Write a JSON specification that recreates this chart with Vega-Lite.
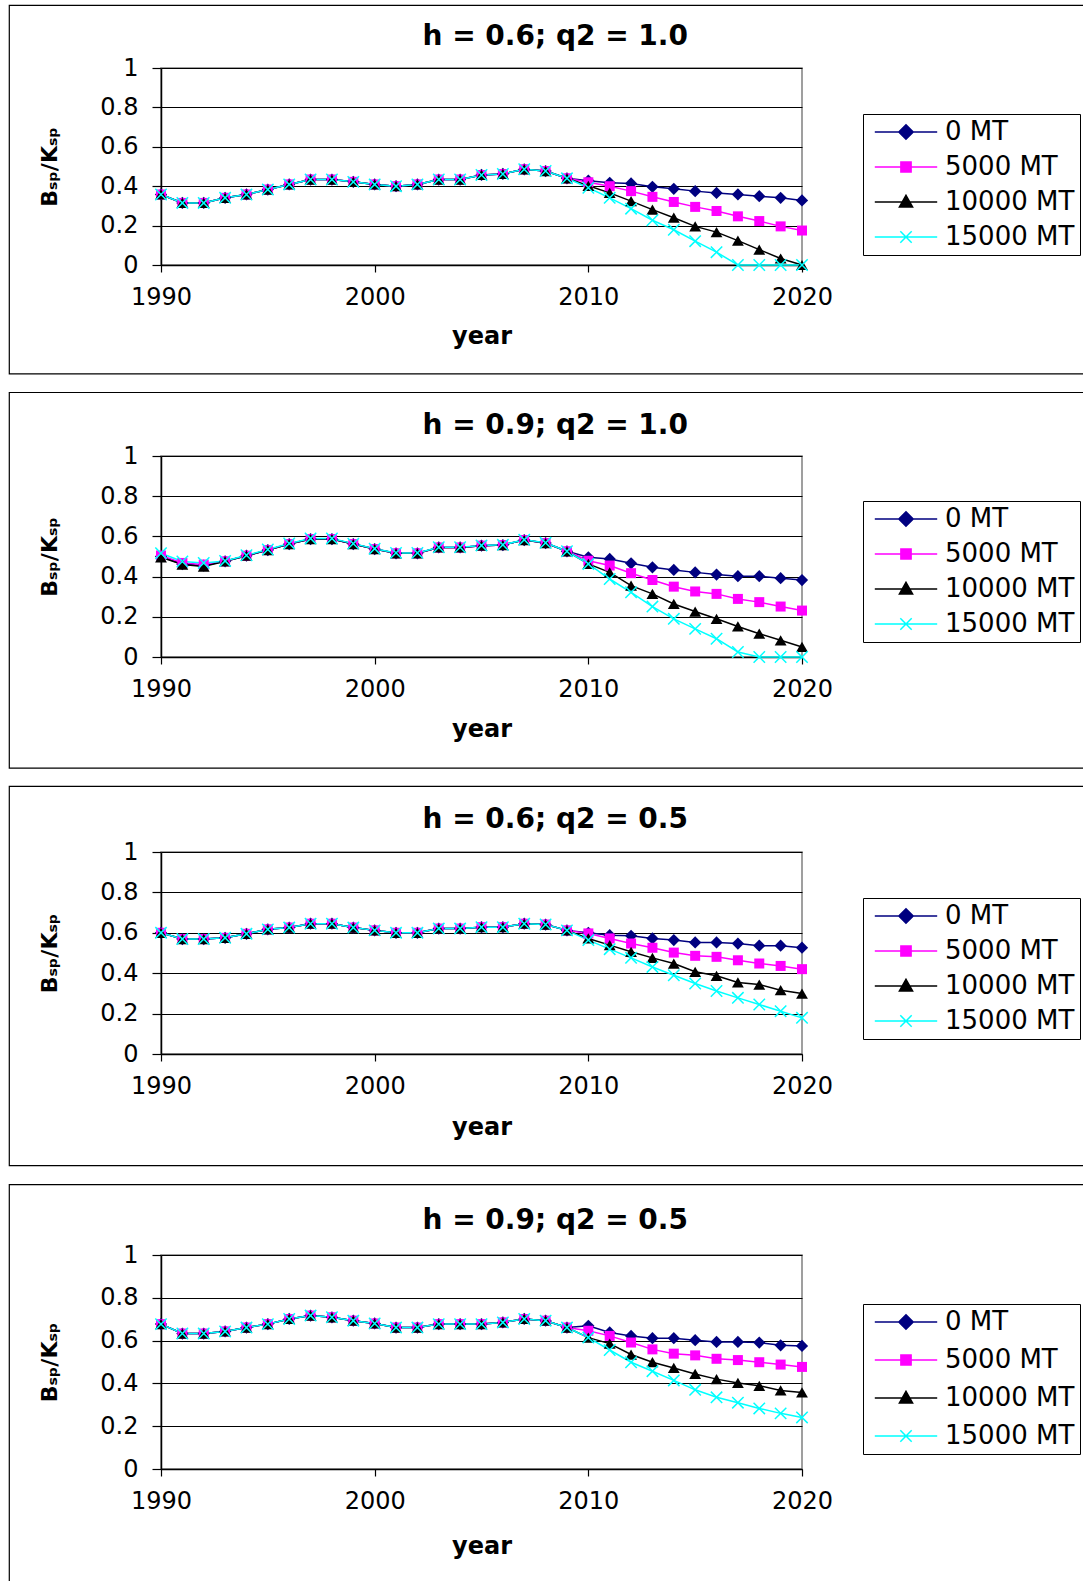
{
  "$schema": "https://vega.github.io/schema/vega-lite/v6.json",
  "background": "white",
  "padding": {"left": 7, "top": 4, "right": 0, "bottom": 0},
  "spacing": 15,
  "resolve": {"scale": {"color": "independent"}, "legend": {"color": "independent"}},
  "config": {
    "font": "DejaVu Sans",
    "view": {"stroke": "#808080", "strokeWidth": 1.5},
    "axis": {
      "labelFont": "DejaVu Sans", "labelFontSize": 24, "labelColor": "#000",
      "titleFont": "DejaVu Sans", "titleFontSize": 22, "titleFontWeight": "bold", "titleColor": "#000",
      "domainColor": "#000", "domainWidth": 1.5, "tickColor": "#000", "tickWidth": 1.2,
      "gridColor": "#000", "gridWidth": 1, "gridOpacity": 1,
      "labelFlush": false, "labelOverlap": false
    },
    "axisX": {"labelPadding": 13, "tickSize": 7, "titleFontSize": 24},
    "axisY": {"labelPadding": 14, "tickSize": 9, "titlePadding": 38},
    "title": {"font": "DejaVu Sans", "fontSize": 28, "fontWeight": "bold", "color": "#000", "frame": "bounds", "anchor": "middle"},
    "legend": {
      "orient": "none", "title": null, "strokeColor": "#000", "fillColor": "white", "padding": 5,
      "labelFont": "DejaVu Sans", "labelFontSize": 26, "labelColor": "#000",
      "symbolSize": 144, "symbolOffset": 25, "labelOffset": 26, "rowPadding": 9, "symbolStrokeWidth": 1.5
    }
  },
  "datasets": {
    "p1": [
      {"year":1990,"series":"0 MT","value":0.358},{"year":1991,"series":"0 MT","value":0.315},{"year":1992,"series":"0 MT","value":0.315},{"year":1993,"series":"0 MT","value":0.341},{"year":1994,"series":"0 MT","value":0.358},{"year":1995,"series":"0 MT","value":0.383},{"year":1996,"series":"0 MT","value":0.409},{"year":1997,"series":"0 MT","value":0.434},{"year":1998,"series":"0 MT","value":0.434},{"year":1999,"series":"0 MT","value":0.422},{"year":2000,"series":"0 MT","value":0.409},{"year":2001,"series":"0 MT","value":0.400},{"year":2002,"series":"0 MT","value":0.409},{"year":2003,"series":"0 MT","value":0.434},{"year":2004,"series":"0 MT","value":0.434},{"year":2005,"series":"0 MT","value":0.457},{"year":2006,"series":"0 MT","value":0.462},{"year":2007,"series":"0 MT","value":0.486},{"year":2008,"series":"0 MT","value":0.477},{"year":2009,"series":"0 MT","value":0.440},{"year":2010,"series":"0 MT","value":0.428},{"year":2011,"series":"0 MT","value":0.417},{"year":2012,"series":"0 MT","value":0.414},{"year":2013,"series":"0 MT","value":0.397},{"year":2014,"series":"0 MT","value":0.387},{"year":2015,"series":"0 MT","value":0.375},{"year":2016,"series":"0 MT","value":0.366},{"year":2017,"series":"0 MT","value":0.358},{"year":2018,"series":"0 MT","value":0.349},{"year":2019,"series":"0 MT","value":0.341},{"year":2020,"series":"0 MT","value":0.328},
      {"year":1990,"series":"5000 MT","value":0.358},{"year":1991,"series":"5000 MT","value":0.315},{"year":1992,"series":"5000 MT","value":0.315},{"year":1993,"series":"5000 MT","value":0.341},{"year":1994,"series":"5000 MT","value":0.358},{"year":1995,"series":"5000 MT","value":0.383},{"year":1996,"series":"5000 MT","value":0.409},{"year":1997,"series":"5000 MT","value":0.434},{"year":1998,"series":"5000 MT","value":0.434},{"year":1999,"series":"5000 MT","value":0.422},{"year":2000,"series":"5000 MT","value":0.409},{"year":2001,"series":"5000 MT","value":0.400},{"year":2002,"series":"5000 MT","value":0.409},{"year":2003,"series":"5000 MT","value":0.434},{"year":2004,"series":"5000 MT","value":0.434},{"year":2005,"series":"5000 MT","value":0.457},{"year":2006,"series":"5000 MT","value":0.462},{"year":2007,"series":"5000 MT","value":0.486},{"year":2008,"series":"5000 MT","value":0.477},{"year":2009,"series":"5000 MT","value":0.440},{"year":2010,"series":"5000 MT","value":0.420},{"year":2011,"series":"5000 MT","value":0.400},{"year":2012,"series":"5000 MT","value":0.375},{"year":2013,"series":"5000 MT","value":0.346},{"year":2014,"series":"5000 MT","value":0.320},{"year":2015,"series":"5000 MT","value":0.295},{"year":2016,"series":"5000 MT","value":0.274},{"year":2017,"series":"5000 MT","value":0.247},{"year":2018,"series":"5000 MT","value":0.223},{"year":2019,"series":"5000 MT","value":0.196},{"year":2020,"series":"5000 MT","value":0.175},
      {"year":1990,"series":"10000 MT","value":0.358},{"year":1991,"series":"10000 MT","value":0.315},{"year":1992,"series":"10000 MT","value":0.315},{"year":1993,"series":"10000 MT","value":0.341},{"year":1994,"series":"10000 MT","value":0.358},{"year":1995,"series":"10000 MT","value":0.383},{"year":1996,"series":"10000 MT","value":0.409},{"year":1997,"series":"10000 MT","value":0.434},{"year":1998,"series":"10000 MT","value":0.434},{"year":1999,"series":"10000 MT","value":0.422},{"year":2000,"series":"10000 MT","value":0.409},{"year":2001,"series":"10000 MT","value":0.400},{"year":2002,"series":"10000 MT","value":0.409},{"year":2003,"series":"10000 MT","value":0.434},{"year":2004,"series":"10000 MT","value":0.434},{"year":2005,"series":"10000 MT","value":0.457},{"year":2006,"series":"10000 MT","value":0.462},{"year":2007,"series":"10000 MT","value":0.486},{"year":2008,"series":"10000 MT","value":0.477},{"year":2009,"series":"10000 MT","value":0.440},{"year":2010,"series":"10000 MT","value":0.402},{"year":2011,"series":"10000 MT","value":0.366},{"year":2012,"series":"10000 MT","value":0.324},{"year":2013,"series":"10000 MT","value":0.281},{"year":2014,"series":"10000 MT","value":0.240},{"year":2015,"series":"10000 MT","value":0.196},{"year":2016,"series":"10000 MT","value":0.167},{"year":2017,"series":"10000 MT","value":0.124},{"year":2018,"series":"10000 MT","value":0.078},{"year":2019,"series":"10000 MT","value":0.033},{"year":2020,"series":"10000 MT","value":0.0},
      {"year":1990,"series":"15000 MT","value":0.358},{"year":1991,"series":"15000 MT","value":0.315},{"year":1992,"series":"15000 MT","value":0.315},{"year":1993,"series":"15000 MT","value":0.341},{"year":1994,"series":"15000 MT","value":0.358},{"year":1995,"series":"15000 MT","value":0.383},{"year":1996,"series":"15000 MT","value":0.409},{"year":1997,"series":"15000 MT","value":0.434},{"year":1998,"series":"15000 MT","value":0.434},{"year":1999,"series":"15000 MT","value":0.422},{"year":2000,"series":"15000 MT","value":0.409},{"year":2001,"series":"15000 MT","value":0.400},{"year":2002,"series":"15000 MT","value":0.409},{"year":2003,"series":"15000 MT","value":0.434},{"year":2004,"series":"15000 MT","value":0.434},{"year":2005,"series":"15000 MT","value":0.457},{"year":2006,"series":"15000 MT","value":0.462},{"year":2007,"series":"15000 MT","value":0.486},{"year":2008,"series":"15000 MT","value":0.477},{"year":2009,"series":"15000 MT","value":0.440},{"year":2010,"series":"15000 MT","value":0.392},{"year":2011,"series":"15000 MT","value":0.341},{"year":2012,"series":"15000 MT","value":0.286},{"year":2013,"series":"15000 MT","value":0.227},{"year":2014,"series":"15000 MT","value":0.179},{"year":2015,"series":"15000 MT","value":0.121},{"year":2016,"series":"15000 MT","value":0.065},{"year":2017,"series":"15000 MT","value":0.0},{"year":2018,"series":"15000 MT","value":0.0},{"year":2019,"series":"15000 MT","value":0.0},{"year":2020,"series":"15000 MT","value":0.0}
    ],
    "p2": [
      {"year":1990,"series":"0 MT","value":0.500},{"year":1991,"series":"0 MT","value":0.462},{"year":1992,"series":"0 MT","value":0.455},{"year":1993,"series":"0 MT","value":0.476},{"year":1994,"series":"0 MT","value":0.504},{"year":1995,"series":"0 MT","value":0.532},{"year":1996,"series":"0 MT","value":0.562},{"year":1997,"series":"0 MT","value":0.587},{"year":1998,"series":"0 MT","value":0.587},{"year":1999,"series":"0 MT","value":0.562},{"year":2000,"series":"0 MT","value":0.537},{"year":2001,"series":"0 MT","value":0.516},{"year":2002,"series":"0 MT","value":0.516},{"year":2003,"series":"0 MT","value":0.545},{"year":2004,"series":"0 MT","value":0.545},{"year":2005,"series":"0 MT","value":0.554},{"year":2006,"series":"0 MT","value":0.557},{"year":2007,"series":"0 MT","value":0.582},{"year":2008,"series":"0 MT","value":0.567},{"year":2009,"series":"0 MT","value":0.526},{"year":2010,"series":"0 MT","value":0.496},{"year":2011,"series":"0 MT","value":0.488},{"year":2012,"series":"0 MT","value":0.466},{"year":2013,"series":"0 MT","value":0.446},{"year":2014,"series":"0 MT","value":0.433},{"year":2015,"series":"0 MT","value":0.421},{"year":2016,"series":"0 MT","value":0.410},{"year":2017,"series":"0 MT","value":0.402},{"year":2018,"series":"0 MT","value":0.402},{"year":2019,"series":"0 MT","value":0.392},{"year":2020,"series":"0 MT","value":0.383},
      {"year":1990,"series":"5000 MT","value":0.505},{"year":1991,"series":"5000 MT","value":0.468},{"year":1992,"series":"5000 MT","value":0.460},{"year":1993,"series":"5000 MT","value":0.476},{"year":1994,"series":"5000 MT","value":0.504},{"year":1995,"series":"5000 MT","value":0.532},{"year":1996,"series":"5000 MT","value":0.562},{"year":1997,"series":"5000 MT","value":0.587},{"year":1998,"series":"5000 MT","value":0.587},{"year":1999,"series":"5000 MT","value":0.562},{"year":2000,"series":"5000 MT","value":0.537},{"year":2001,"series":"5000 MT","value":0.516},{"year":2002,"series":"5000 MT","value":0.516},{"year":2003,"series":"5000 MT","value":0.545},{"year":2004,"series":"5000 MT","value":0.545},{"year":2005,"series":"5000 MT","value":0.554},{"year":2006,"series":"5000 MT","value":0.557},{"year":2007,"series":"5000 MT","value":0.582},{"year":2008,"series":"5000 MT","value":0.567},{"year":2009,"series":"5000 MT","value":0.526},{"year":2010,"series":"5000 MT","value":0.479},{"year":2011,"series":"5000 MT","value":0.455},{"year":2012,"series":"5000 MT","value":0.417},{"year":2013,"series":"5000 MT","value":0.383},{"year":2014,"series":"5000 MT","value":0.350},{"year":2015,"series":"5000 MT","value":0.326},{"year":2016,"series":"5000 MT","value":0.314},{"year":2017,"series":"5000 MT","value":0.289},{"year":2018,"series":"5000 MT","value":0.273},{"year":2019,"series":"5000 MT","value":0.251},{"year":2020,"series":"5000 MT","value":0.231},
      {"year":1990,"series":"10000 MT","value":0.496},{"year":1991,"series":"10000 MT","value":0.460},{"year":1992,"series":"10000 MT","value":0.450},{"year":1993,"series":"10000 MT","value":0.476},{"year":1994,"series":"10000 MT","value":0.504},{"year":1995,"series":"10000 MT","value":0.532},{"year":1996,"series":"10000 MT","value":0.562},{"year":1997,"series":"10000 MT","value":0.587},{"year":1998,"series":"10000 MT","value":0.587},{"year":1999,"series":"10000 MT","value":0.562},{"year":2000,"series":"10000 MT","value":0.537},{"year":2001,"series":"10000 MT","value":0.516},{"year":2002,"series":"10000 MT","value":0.516},{"year":2003,"series":"10000 MT","value":0.545},{"year":2004,"series":"10000 MT","value":0.545},{"year":2005,"series":"10000 MT","value":0.554},{"year":2006,"series":"10000 MT","value":0.557},{"year":2007,"series":"10000 MT","value":0.582},{"year":2008,"series":"10000 MT","value":0.567},{"year":2009,"series":"10000 MT","value":0.526},{"year":2010,"series":"10000 MT","value":0.463},{"year":2011,"series":"10000 MT","value":0.421},{"year":2012,"series":"10000 MT","value":0.355},{"year":2013,"series":"10000 MT","value":0.314},{"year":2014,"series":"10000 MT","value":0.264},{"year":2015,"series":"10000 MT","value":0.226},{"year":2016,"series":"10000 MT","value":0.190},{"year":2017,"series":"10000 MT","value":0.152},{"year":2018,"series":"10000 MT","value":0.116},{"year":2019,"series":"10000 MT","value":0.083},{"year":2020,"series":"10000 MT","value":0.050},
      {"year":1990,"series":"15000 MT","value":0.516},{"year":1991,"series":"15000 MT","value":0.475},{"year":1992,"series":"15000 MT","value":0.468},{"year":1993,"series":"15000 MT","value":0.478},{"year":1994,"series":"15000 MT","value":0.506},{"year":1995,"series":"15000 MT","value":0.535},{"year":1996,"series":"15000 MT","value":0.565},{"year":1997,"series":"15000 MT","value":0.590},{"year":1998,"series":"15000 MT","value":0.590},{"year":1999,"series":"15000 MT","value":0.564},{"year":2000,"series":"15000 MT","value":0.539},{"year":2001,"series":"15000 MT","value":0.518},{"year":2002,"series":"15000 MT","value":0.518},{"year":2003,"series":"15000 MT","value":0.546},{"year":2004,"series":"15000 MT","value":0.546},{"year":2005,"series":"15000 MT","value":0.555},{"year":2006,"series":"15000 MT","value":0.558},{"year":2007,"series":"15000 MT","value":0.583},{"year":2008,"series":"15000 MT","value":0.568},{"year":2009,"series":"15000 MT","value":0.526},{"year":2010,"series":"15000 MT","value":0.463},{"year":2011,"series":"15000 MT","value":0.388},{"year":2012,"series":"15000 MT","value":0.322},{"year":2013,"series":"15000 MT","value":0.251},{"year":2014,"series":"15000 MT","value":0.190},{"year":2015,"series":"15000 MT","value":0.140},{"year":2016,"series":"15000 MT","value":0.091},{"year":2017,"series":"15000 MT","value":0.025},{"year":2018,"series":"15000 MT","value":0.0},{"year":2019,"series":"15000 MT","value":0.0},{"year":2020,"series":"15000 MT","value":0.0}
    ],
    "p3": [
      {"year":1990,"series":"0 MT","value":0.600},{"year":1991,"series":"0 MT","value":0.569},{"year":1992,"series":"0 MT","value":0.569},{"year":1993,"series":"0 MT","value":0.575},{"year":1994,"series":"0 MT","value":0.595},{"year":1995,"series":"0 MT","value":0.617},{"year":1996,"series":"0 MT","value":0.626},{"year":1997,"series":"0 MT","value":0.645},{"year":1998,"series":"0 MT","value":0.645},{"year":1999,"series":"0 MT","value":0.626},{"year":2000,"series":"0 MT","value":0.612},{"year":2001,"series":"0 MT","value":0.600},{"year":2002,"series":"0 MT","value":0.600},{"year":2003,"series":"0 MT","value":0.621},{"year":2004,"series":"0 MT","value":0.621},{"year":2005,"series":"0 MT","value":0.628},{"year":2006,"series":"0 MT","value":0.628},{"year":2007,"series":"0 MT","value":0.645},{"year":2008,"series":"0 MT","value":0.641},{"year":2009,"series":"0 MT","value":0.612},{"year":2010,"series":"0 MT","value":0.600},{"year":2011,"series":"0 MT","value":0.588},{"year":2012,"series":"0 MT","value":0.585},{"year":2013,"series":"0 MT","value":0.572},{"year":2014,"series":"0 MT","value":0.564},{"year":2015,"series":"0 MT","value":0.552},{"year":2016,"series":"0 MT","value":0.552},{"year":2017,"series":"0 MT","value":0.547},{"year":2018,"series":"0 MT","value":0.536},{"year":2019,"series":"0 MT","value":0.536},{"year":2020,"series":"0 MT","value":0.526},
      {"year":1990,"series":"5000 MT","value":0.600},{"year":1991,"series":"5000 MT","value":0.569},{"year":1992,"series":"5000 MT","value":0.569},{"year":1993,"series":"5000 MT","value":0.575},{"year":1994,"series":"5000 MT","value":0.595},{"year":1995,"series":"5000 MT","value":0.617},{"year":1996,"series":"5000 MT","value":0.626},{"year":1997,"series":"5000 MT","value":0.645},{"year":1998,"series":"5000 MT","value":0.645},{"year":1999,"series":"5000 MT","value":0.626},{"year":2000,"series":"5000 MT","value":0.612},{"year":2001,"series":"5000 MT","value":0.600},{"year":2002,"series":"5000 MT","value":0.600},{"year":2003,"series":"5000 MT","value":0.621},{"year":2004,"series":"5000 MT","value":0.621},{"year":2005,"series":"5000 MT","value":0.628},{"year":2006,"series":"5000 MT","value":0.628},{"year":2007,"series":"5000 MT","value":0.645},{"year":2008,"series":"5000 MT","value":0.641},{"year":2009,"series":"5000 MT","value":0.612},{"year":2010,"series":"5000 MT","value":0.597},{"year":2011,"series":"5000 MT","value":0.572},{"year":2012,"series":"5000 MT","value":0.547},{"year":2013,"series":"5000 MT","value":0.526},{"year":2014,"series":"5000 MT","value":0.502},{"year":2015,"series":"5000 MT","value":0.486},{"year":2016,"series":"5000 MT","value":0.481},{"year":2017,"series":"5000 MT","value":0.464},{"year":2018,"series":"5000 MT","value":0.448},{"year":2019,"series":"5000 MT","value":0.436},{"year":2020,"series":"5000 MT","value":0.420},
      {"year":1990,"series":"10000 MT","value":0.600},{"year":1991,"series":"10000 MT","value":0.569},{"year":1992,"series":"10000 MT","value":0.569},{"year":1993,"series":"10000 MT","value":0.575},{"year":1994,"series":"10000 MT","value":0.595},{"year":1995,"series":"10000 MT","value":0.617},{"year":1996,"series":"10000 MT","value":0.626},{"year":1997,"series":"10000 MT","value":0.645},{"year":1998,"series":"10000 MT","value":0.645},{"year":1999,"series":"10000 MT","value":0.626},{"year":2000,"series":"10000 MT","value":0.612},{"year":2001,"series":"10000 MT","value":0.600},{"year":2002,"series":"10000 MT","value":0.600},{"year":2003,"series":"10000 MT","value":0.621},{"year":2004,"series":"10000 MT","value":0.621},{"year":2005,"series":"10000 MT","value":0.628},{"year":2006,"series":"10000 MT","value":0.628},{"year":2007,"series":"10000 MT","value":0.645},{"year":2008,"series":"10000 MT","value":0.641},{"year":2009,"series":"10000 MT","value":0.612},{"year":2010,"series":"10000 MT","value":0.572},{"year":2011,"series":"10000 MT","value":0.539},{"year":2012,"series":"10000 MT","value":0.506},{"year":2013,"series":"10000 MT","value":0.476},{"year":2014,"series":"10000 MT","value":0.448},{"year":2015,"series":"10000 MT","value":0.407},{"year":2016,"series":"10000 MT","value":0.387},{"year":2017,"series":"10000 MT","value":0.354},{"year":2018,"series":"10000 MT","value":0.344},{"year":2019,"series":"10000 MT","value":0.316},{"year":2020,"series":"10000 MT","value":0.299},
      {"year":1990,"series":"15000 MT","value":0.600},{"year":1991,"series":"15000 MT","value":0.569},{"year":1992,"series":"15000 MT","value":0.569},{"year":1993,"series":"15000 MT","value":0.575},{"year":1994,"series":"15000 MT","value":0.595},{"year":1995,"series":"15000 MT","value":0.617},{"year":1996,"series":"15000 MT","value":0.626},{"year":1997,"series":"15000 MT","value":0.645},{"year":1998,"series":"15000 MT","value":0.645},{"year":1999,"series":"15000 MT","value":0.626},{"year":2000,"series":"15000 MT","value":0.612},{"year":2001,"series":"15000 MT","value":0.600},{"year":2002,"series":"15000 MT","value":0.600},{"year":2003,"series":"15000 MT","value":0.621},{"year":2004,"series":"15000 MT","value":0.621},{"year":2005,"series":"15000 MT","value":0.628},{"year":2006,"series":"15000 MT","value":0.628},{"year":2007,"series":"15000 MT","value":0.645},{"year":2008,"series":"15000 MT","value":0.641},{"year":2009,"series":"15000 MT","value":0.612},{"year":2010,"series":"15000 MT","value":0.564},{"year":2011,"series":"15000 MT","value":0.519},{"year":2012,"series":"15000 MT","value":0.476},{"year":2013,"series":"15000 MT","value":0.431},{"year":2014,"series":"15000 MT","value":0.390},{"year":2015,"series":"15000 MT","value":0.349},{"year":2016,"series":"15000 MT","value":0.312},{"year":2017,"series":"15000 MT","value":0.278},{"year":2018,"series":"15000 MT","value":0.245},{"year":2019,"series":"15000 MT","value":0.212},{"year":2020,"series":"15000 MT","value":0.179}
    ],
    "p4": [
      {"year":1990,"series":"0 MT","value":0.677},{"year":1991,"series":"0 MT","value":0.633},{"year":1992,"series":"0 MT","value":0.633},{"year":1993,"series":"0 MT","value":0.643},{"year":1994,"series":"0 MT","value":0.661},{"year":1995,"series":"0 MT","value":0.677},{"year":1996,"series":"0 MT","value":0.701},{"year":1997,"series":"0 MT","value":0.717},{"year":1998,"series":"0 MT","value":0.709},{"year":1999,"series":"0 MT","value":0.693},{"year":2000,"series":"0 MT","value":0.680},{"year":2001,"series":"0 MT","value":0.661},{"year":2002,"series":"0 MT","value":0.661},{"year":2003,"series":"0 MT","value":0.677},{"year":2004,"series":"0 MT","value":0.677},{"year":2005,"series":"0 MT","value":0.677},{"year":2006,"series":"0 MT","value":0.685},{"year":2007,"series":"0 MT","value":0.701},{"year":2008,"series":"0 MT","value":0.693},{"year":2009,"series":"0 MT","value":0.661},{"year":2010,"series":"0 MT","value":0.669},{"year":2011,"series":"0 MT","value":0.638},{"year":2012,"series":"0 MT","value":0.622},{"year":2013,"series":"0 MT","value":0.611},{"year":2014,"series":"0 MT","value":0.611},{"year":2015,"series":"0 MT","value":0.602},{"year":2016,"series":"0 MT","value":0.594},{"year":2017,"series":"0 MT","value":0.594},{"year":2018,"series":"0 MT","value":0.591},{"year":2019,"series":"0 MT","value":0.578},{"year":2020,"series":"0 MT","value":0.575},
      {"year":1990,"series":"5000 MT","value":0.677},{"year":1991,"series":"5000 MT","value":0.633},{"year":1992,"series":"5000 MT","value":0.633},{"year":1993,"series":"5000 MT","value":0.643},{"year":1994,"series":"5000 MT","value":0.661},{"year":1995,"series":"5000 MT","value":0.677},{"year":1996,"series":"5000 MT","value":0.701},{"year":1997,"series":"5000 MT","value":0.717},{"year":1998,"series":"5000 MT","value":0.709},{"year":1999,"series":"5000 MT","value":0.693},{"year":2000,"series":"5000 MT","value":0.680},{"year":2001,"series":"5000 MT","value":0.661},{"year":2002,"series":"5000 MT","value":0.661},{"year":2003,"series":"5000 MT","value":0.677},{"year":2004,"series":"5000 MT","value":0.677},{"year":2005,"series":"5000 MT","value":0.677},{"year":2006,"series":"5000 MT","value":0.685},{"year":2007,"series":"5000 MT","value":0.701},{"year":2008,"series":"5000 MT","value":0.693},{"year":2009,"series":"5000 MT","value":0.661},{"year":2010,"series":"5000 MT","value":0.646},{"year":2011,"series":"5000 MT","value":0.622},{"year":2012,"series":"5000 MT","value":0.591},{"year":2013,"series":"5000 MT","value":0.559},{"year":2014,"series":"5000 MT","value":0.539},{"year":2015,"series":"5000 MT","value":0.531},{"year":2016,"series":"5000 MT","value":0.515},{"year":2017,"series":"5000 MT","value":0.509},{"year":2018,"series":"5000 MT","value":0.499},{"year":2019,"series":"5000 MT","value":0.488},{"year":2020,"series":"5000 MT","value":0.477},
      {"year":1990,"series":"10000 MT","value":0.677},{"year":1991,"series":"10000 MT","value":0.633},{"year":1992,"series":"10000 MT","value":0.633},{"year":1993,"series":"10000 MT","value":0.643},{"year":1994,"series":"10000 MT","value":0.661},{"year":1995,"series":"10000 MT","value":0.677},{"year":1996,"series":"10000 MT","value":0.701},{"year":1997,"series":"10000 MT","value":0.717},{"year":1998,"series":"10000 MT","value":0.709},{"year":1999,"series":"10000 MT","value":0.693},{"year":2000,"series":"10000 MT","value":0.680},{"year":2001,"series":"10000 MT","value":0.661},{"year":2002,"series":"10000 MT","value":0.661},{"year":2003,"series":"10000 MT","value":0.677},{"year":2004,"series":"10000 MT","value":0.677},{"year":2005,"series":"10000 MT","value":0.677},{"year":2006,"series":"10000 MT","value":0.685},{"year":2007,"series":"10000 MT","value":0.701},{"year":2008,"series":"10000 MT","value":0.693},{"year":2009,"series":"10000 MT","value":0.661},{"year":2010,"series":"10000 MT","value":0.614},{"year":2011,"series":"10000 MT","value":0.586},{"year":2012,"series":"10000 MT","value":0.535},{"year":2013,"series":"10000 MT","value":0.499},{"year":2014,"series":"10000 MT","value":0.472},{"year":2015,"series":"10000 MT","value":0.444},{"year":2016,"series":"10000 MT","value":0.420},{"year":2017,"series":"10000 MT","value":0.402},{"year":2018,"series":"10000 MT","value":0.389},{"year":2019,"series":"10000 MT","value":0.367},{"year":2020,"series":"10000 MT","value":0.358},
      {"year":1990,"series":"15000 MT","value":0.677},{"year":1991,"series":"15000 MT","value":0.633},{"year":1992,"series":"15000 MT","value":0.633},{"year":1993,"series":"15000 MT","value":0.643},{"year":1994,"series":"15000 MT","value":0.661},{"year":1995,"series":"15000 MT","value":0.677},{"year":1996,"series":"15000 MT","value":0.701},{"year":1997,"series":"15000 MT","value":0.717},{"year":1998,"series":"15000 MT","value":0.709},{"year":1999,"series":"15000 MT","value":0.693},{"year":2000,"series":"15000 MT","value":0.680},{"year":2001,"series":"15000 MT","value":0.661},{"year":2002,"series":"15000 MT","value":0.661},{"year":2003,"series":"15000 MT","value":0.677},{"year":2004,"series":"15000 MT","value":0.677},{"year":2005,"series":"15000 MT","value":0.677},{"year":2006,"series":"15000 MT","value":0.685},{"year":2007,"series":"15000 MT","value":0.701},{"year":2008,"series":"15000 MT","value":0.693},{"year":2009,"series":"15000 MT","value":0.661},{"year":2010,"series":"15000 MT","value":0.614},{"year":2011,"series":"15000 MT","value":0.556},{"year":2012,"series":"15000 MT","value":0.499},{"year":2013,"series":"15000 MT","value":0.457},{"year":2014,"series":"15000 MT","value":0.414},{"year":2015,"series":"15000 MT","value":0.370},{"year":2016,"series":"15000 MT","value":0.335},{"year":2017,"series":"15000 MT","value":0.310},{"year":2018,"series":"15000 MT","value":0.283},{"year":2019,"series":"15000 MT","value":0.260},{"year":2020,"series":"15000 MT","value":0.241}
    ]
  },
  "vconcat": [
    {
      "title": {"text": "h = 0.6; q2 = 1.0", "offset": -46.5},
      "width": 641, "height": 197,
      "layer": [
        {"data": {"values": [{}]}, "mark": {"type": "rect", "fill": "white", "fillOpacity": 0, "stroke": "#000", "strokeWidth": 1.2},
         "encoding": {
           "x": {"datum": 1982.9, "type": "quantitative", "scale": {"domain": [1990, 2020], "nice": false, "zero": false}, "axis": {"values": [1990, 2000, 2010, 2020], "format": "d", "title": "year", "grid": false, "titlePadding": 15}},
           "x2": {"datum": 2034},
           "y": {"datum": 1.318, "type": "quantitative", "scale": {"domain": [0, 1], "nice": false}, "axis": {"values": [0, 0.2, 0.4, 0.6, 0.8, 1], "format": "~g", "title": "Bₛₚ/Kₛₚ", "grid": true}},
           "y2": {"datum": -0.553}}},
        {"data": {"name": "p1"},
         "encoding": {
           "x": {"field": "year", "type": "quantitative", "scale": {"domain": [1990, 2020], "nice": false, "zero": false}, "axis": {"values": [1990, 2000, 2010, 2020], "format": "d", "title": "year", "grid": false, "titlePadding": 15}},
           "y": {"field": "value", "type": "quantitative", "scale": {"domain": [0, 1], "nice": false}, "axis": {"values": [0, 0.2, 0.4, 0.6, 0.8, 1], "format": "~g", "title": "Bₛₚ/Kₛₚ", "grid": true}}
         },
         "layer": [
          {"mark": {"type": "line", "strokeWidth": 1.5},
           "encoding": {"color": {"field": "series", "type": "nominal", "sort": null,
             "scale": {"domain": ["0 MT", "5000 MT", "10000 MT", "15000 MT"], "range": ["#000080", "#FF00FF", "#000000", "#00FFFF"]},
             "legend": {"legendX": 702, "legendY": 46,
               "encode": {"symbols": {"update": {
                 "shape": {"signal": "datum.value == '0 MT' ? 'M-5.2,0H5.2M0,-1.2L1.2,0L0,1.2L-1.2,0Z' : datum.value == '5000 MT' ? 'M-5.2,0H5.2M-0.85,-0.85H0.85V0.85H-0.85Z' : datum.value == '10000 MT' ? 'M-5.2,0H5.2M0,-1.1L1.1,0.85L-1.1,0.85Z' : 'M-5.2,0H5.2M-0.95,-0.95L0.95,0.95M-0.95,0.95L0.95,-0.95'"},
                 "fill": {"signal": "datum.value == '0 MT' ? '#000080' : datum.value == '5000 MT' ? '#FF00FF' : datum.value == '10000 MT' ? '#000000' : 'transparent'"},
                 "stroke": {"signal": "datum.value == '0 MT' ? '#000080' : datum.value == '5000 MT' ? '#FF00FF' : datum.value == '10000 MT' ? '#000000' : '#00FFFF'"},
                 "strokeWidth": {"value": 1.5},
                 "opacity": {"value": 1}}}}}}}},
          {"transform": [{"filter": "datum.series == '0 MT'"}], "mark": {"type": "point", "shape": "diamond", "filled": true, "color": "#000080", "size": 150, "opacity": 1}},
          {"transform": [{"filter": "datum.series == '5000 MT'"}], "mark": {"type": "point", "shape": "square", "filled": true, "color": "#FF00FF", "size": 100, "opacity": 1}},
          {"transform": [{"filter": "datum.series == '10000 MT'"}], "mark": {"type": "point", "shape": "triangle-up", "filled": true, "color": "#000000", "size": 140, "opacity": 1}},
          {"transform": [{"filter": "datum.series == '15000 MT'"}], "mark": {"type": "point", "shape": "M-1,-1L1,1M-1,1L1,-1", "filled": false, "color": "#00FFFF", "size": 130, "strokeWidth": 1.5, "opacity": 1}}
         ]}
      ]
    },
    {
      "title": {"text": "h = 0.9; q2 = 1.0", "offset": -47.7},
      "width": 641, "height": 201,
      "layer": [
        {"data": {"values": [{}]}, "mark": {"type": "rect", "fill": "white", "fillOpacity": 0, "stroke": "#000", "strokeWidth": 1.2},
         "encoding": {
           "x": {"datum": 1982.9, "type": "quantitative", "scale": {"domain": [1990, 2020], "nice": false, "zero": false}, "axis": {"values": [1990, 2000, 2010, 2020], "format": "d", "title": "year", "grid": false, "titlePadding": 16}},
           "x2": {"datum": 2034},
           "y": {"datum": 1.316, "type": "quantitative", "scale": {"domain": [0, 1], "nice": false}, "axis": {"values": [0, 0.2, 0.4, 0.6, 0.8, 1], "format": "~g", "title": "Bₛₚ/Kₛₚ", "grid": true}},
           "y2": {"datum": -0.553}}},
        {"data": {"name": "p2"},
         "encoding": {
           "x": {"field": "year", "type": "quantitative", "scale": {"domain": [1990, 2020], "nice": false, "zero": false}, "axis": {"values": [1990, 2000, 2010, 2020], "format": "d", "title": "year", "grid": false, "titlePadding": 16}},
           "y": {"field": "value", "type": "quantitative", "scale": {"domain": [0, 1], "nice": false}, "axis": {"values": [0, 0.2, 0.4, 0.6, 0.8, 1], "format": "~g", "title": "Bₛₚ/Kₛₚ", "grid": true}}
         },
         "layer": [
          {"mark": {"type": "line", "strokeWidth": 1.5},
           "encoding": {"color": {"field": "series", "type": "nominal", "sort": null,
             "scale": {"domain": ["0 MT", "5000 MT", "10000 MT", "15000 MT"], "range": ["#000080", "#FF00FF", "#000000", "#00FFFF"]},
             "legend": {"legendX": 702, "legendY": 45,
               "encode": {"symbols": {"update": {
                 "shape": {"signal": "datum.value == '0 MT' ? 'M-5.2,0H5.2M0,-1.2L1.2,0L0,1.2L-1.2,0Z' : datum.value == '5000 MT' ? 'M-5.2,0H5.2M-0.85,-0.85H0.85V0.85H-0.85Z' : datum.value == '10000 MT' ? 'M-5.2,0H5.2M0,-1.1L1.1,0.85L-1.1,0.85Z' : 'M-5.2,0H5.2M-0.95,-0.95L0.95,0.95M-0.95,0.95L0.95,-0.95'"},
                 "fill": {"signal": "datum.value == '0 MT' ? '#000080' : datum.value == '5000 MT' ? '#FF00FF' : datum.value == '10000 MT' ? '#000000' : 'transparent'"},
                 "stroke": {"signal": "datum.value == '0 MT' ? '#000080' : datum.value == '5000 MT' ? '#FF00FF' : datum.value == '10000 MT' ? '#000000' : '#00FFFF'"},
                 "strokeWidth": {"value": 1.5},
                 "opacity": {"value": 1}}}}}}}},
          {"transform": [{"filter": "datum.series == '0 MT'"}], "mark": {"type": "point", "shape": "diamond", "filled": true, "color": "#000080", "size": 150, "opacity": 1}},
          {"transform": [{"filter": "datum.series == '5000 MT'"}], "mark": {"type": "point", "shape": "square", "filled": true, "color": "#FF00FF", "size": 100, "opacity": 1}},
          {"transform": [{"filter": "datum.series == '10000 MT'"}], "mark": {"type": "point", "shape": "triangle-up", "filled": true, "color": "#000000", "size": 140, "opacity": 1}},
          {"transform": [{"filter": "datum.series == '15000 MT'"}], "mark": {"type": "point", "shape": "M-1,-1L1,1M-1,1L1,-1", "filled": false, "color": "#00FFFF", "size": 130, "strokeWidth": 1.5, "opacity": 1}}
         ]}
      ]
    },
    {
      "title": {"text": "h = 0.6; q2 = 0.5", "offset": -48.4},
      "width": 641, "height": 202,
      "layer": [
        {"data": {"values": [{}]}, "mark": {"type": "rect", "fill": "white", "fillOpacity": 0, "stroke": "#000", "strokeWidth": 1.2},
         "encoding": {
           "x": {"datum": 1982.9, "type": "quantitative", "scale": {"domain": [1990, 2020], "nice": false, "zero": false}, "axis": {"values": [1990, 2000, 2010, 2020], "format": "d", "title": "year", "grid": false, "titlePadding": 17}},
           "x2": {"datum": 2034},
           "y": {"datum": 1.325, "type": "quantitative", "scale": {"domain": [0, 1], "nice": false}, "axis": {"values": [0, 0.2, 0.4, 0.6, 0.8, 1], "format": "~g", "title": "Bₛₚ/Kₛₚ", "grid": true}},
           "y2": {"datum": -0.553}}},
        {"data": {"name": "p3"},
         "encoding": {
           "x": {"field": "year", "type": "quantitative", "scale": {"domain": [1990, 2020], "nice": false, "zero": false}, "axis": {"values": [1990, 2000, 2010, 2020], "format": "d", "title": "year", "grid": false, "titlePadding": 17}},
           "y": {"field": "value", "type": "quantitative", "scale": {"domain": [0, 1], "nice": false}, "axis": {"values": [0, 0.2, 0.4, 0.6, 0.8, 1], "format": "~g", "title": "Bₛₚ/Kₛₚ", "grid": true}}
         },
         "layer": [
          {"mark": {"type": "line", "strokeWidth": 1.5},
           "encoding": {"color": {"field": "series", "type": "nominal", "sort": null,
             "scale": {"domain": ["0 MT", "5000 MT", "10000 MT", "15000 MT"], "range": ["#000080", "#FF00FF", "#000000", "#00FFFF"]},
             "legend": {"legendX": 702, "legendY": 46,
               "encode": {"symbols": {"update": {
                 "shape": {"signal": "datum.value == '0 MT' ? 'M-5.2,0H5.2M0,-1.2L1.2,0L0,1.2L-1.2,0Z' : datum.value == '5000 MT' ? 'M-5.2,0H5.2M-0.85,-0.85H0.85V0.85H-0.85Z' : datum.value == '10000 MT' ? 'M-5.2,0H5.2M0,-1.1L1.1,0.85L-1.1,0.85Z' : 'M-5.2,0H5.2M-0.95,-0.95L0.95,0.95M-0.95,0.95L0.95,-0.95'"},
                 "fill": {"signal": "datum.value == '0 MT' ? '#000080' : datum.value == '5000 MT' ? '#FF00FF' : datum.value == '10000 MT' ? '#000000' : 'transparent'"},
                 "stroke": {"signal": "datum.value == '0 MT' ? '#000080' : datum.value == '5000 MT' ? '#FF00FF' : datum.value == '10000 MT' ? '#000000' : '#00FFFF'"},
                 "strokeWidth": {"value": 1.5},
                 "opacity": {"value": 1}}}}}}}},
          {"transform": [{"filter": "datum.series == '0 MT'"}], "mark": {"type": "point", "shape": "diamond", "filled": true, "color": "#000080", "size": 150, "opacity": 1}},
          {"transform": [{"filter": "datum.series == '5000 MT'"}], "mark": {"type": "point", "shape": "square", "filled": true, "color": "#FF00FF", "size": 100, "opacity": 1}},
          {"transform": [{"filter": "datum.series == '10000 MT'"}], "mark": {"type": "point", "shape": "triangle-up", "filled": true, "color": "#000000", "size": 140, "opacity": 1}},
          {"transform": [{"filter": "datum.series == '15000 MT'"}], "mark": {"type": "point", "shape": "M-1,-1L1,1M-1,1L1,-1", "filled": false, "color": "#00FFFF", "size": 130, "strokeWidth": 1.5, "opacity": 1}}
         ]}
      ]
    },
    {
      "title": {"text": "h = 0.9; q2 = 0.5", "offset": -51.3},
      "width": 641, "height": 214,
      "layer": [
        {"data": {"values": [{}]}, "mark": {"type": "rect", "fill": "white", "fillOpacity": 0, "stroke": "#000", "strokeWidth": 1.2},
         "encoding": {
           "x": {"datum": 1982.9, "type": "quantitative", "scale": {"domain": [1990, 2020], "nice": false, "zero": false}, "axis": {"values": [1990, 2000, 2010, 2020], "format": "d", "title": "year", "grid": false, "titlePadding": 21}},
           "x2": {"datum": 2034},
           "y": {"datum": 1.329, "type": "quantitative", "scale": {"domain": [0, 1], "nice": false}, "axis": {"values": [0, 0.2, 0.4, 0.6, 0.8, 1], "format": "~g", "title": "Bₛₚ/Kₛₚ", "grid": true}},
           "y2": {"datum": -0.6}}},
        {"data": {"name": "p4"},
         "encoding": {
           "x": {"field": "year", "type": "quantitative", "scale": {"domain": [1990, 2020], "nice": false, "zero": false}, "axis": {"values": [1990, 2000, 2010, 2020], "format": "d", "title": "year", "grid": false, "titlePadding": 21}},
           "y": {"field": "value", "type": "quantitative", "scale": {"domain": [0, 1], "nice": false}, "axis": {"values": [0, 0.2, 0.4, 0.6, 0.8, 1], "format": "~g", "title": "Bₛₚ/Kₛₚ", "grid": true}}
         },
         "layer": [
          {"mark": {"type": "line", "strokeWidth": 1.5},
           "encoding": {"color": {"field": "series", "type": "nominal", "sort": null,
             "scale": {"domain": ["0 MT", "5000 MT", "10000 MT", "15000 MT"], "range": ["#000080", "#FF00FF", "#000000", "#00FFFF"]},
             "legend": {"legendX": 702, "legendY": 49, "rowPadding": 12,
               "encode": {"symbols": {"update": {
                 "shape": {"signal": "datum.value == '0 MT' ? 'M-5.2,0H5.2M0,-1.2L1.2,0L0,1.2L-1.2,0Z' : datum.value == '5000 MT' ? 'M-5.2,0H5.2M-0.85,-0.85H0.85V0.85H-0.85Z' : datum.value == '10000 MT' ? 'M-5.2,0H5.2M0,-1.1L1.1,0.85L-1.1,0.85Z' : 'M-5.2,0H5.2M-0.95,-0.95L0.95,0.95M-0.95,0.95L0.95,-0.95'"},
                 "fill": {"signal": "datum.value == '0 MT' ? '#000080' : datum.value == '5000 MT' ? '#FF00FF' : datum.value == '10000 MT' ? '#000000' : 'transparent'"},
                 "stroke": {"signal": "datum.value == '0 MT' ? '#000080' : datum.value == '5000 MT' ? '#FF00FF' : datum.value == '10000 MT' ? '#000000' : '#00FFFF'"},
                 "strokeWidth": {"value": 1.5},
                 "opacity": {"value": 1}}}}}}}},
          {"transform": [{"filter": "datum.series == '0 MT'"}], "mark": {"type": "point", "shape": "diamond", "filled": true, "color": "#000080", "size": 150, "opacity": 1}},
          {"transform": [{"filter": "datum.series == '5000 MT'"}], "mark": {"type": "point", "shape": "square", "filled": true, "color": "#FF00FF", "size": 100, "opacity": 1}},
          {"transform": [{"filter": "datum.series == '10000 MT'"}], "mark": {"type": "point", "shape": "triangle-up", "filled": true, "color": "#000000", "size": 140, "opacity": 1}},
          {"transform": [{"filter": "datum.series == '15000 MT'"}], "mark": {"type": "point", "shape": "M-1,-1L1,1M-1,1L1,-1", "filled": false, "color": "#00FFFF", "size": 130, "strokeWidth": 1.5, "opacity": 1}}
         ]}
      ]
    }
  ]
}
